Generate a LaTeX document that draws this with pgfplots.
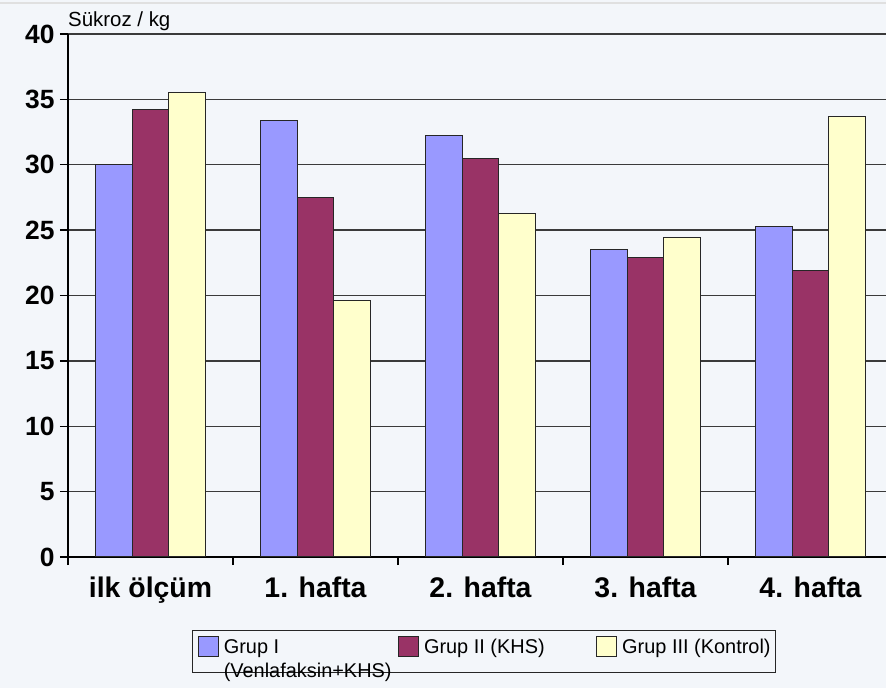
\documentclass[border=0pt]{standalone}
\usepackage{pgfplots}
\pgfplotsset{compat=1.18}
\usepackage{fontspec}
\setmainfont{Liberation Sans}
\definecolor{bg}{HTML}{F3F6FA}
\definecolor{g1}{HTML}{9999FF}
\definecolor{g2}{HTML}{993366}
\definecolor{g3}{HTML}{FFFFCC}
\definecolor{gridc}{HTML}{3A3A3A}
\begin{document}
\begin{tikzpicture}[x=1bp,y=1bp]
\path[use as bounding box] (-68,-131) rectangle (818,557);
\clip (-68,-131) rectangle (818,557);
\fill[bg] (-68,-131) rectangle (818,557);
\draw[color=black!12, line width=2bp] (-68,554) -- (818,554);
\begin{axis}[
  at={(0,0)}, anchor=south west,
  width=818bp, height=523bp, scale only axis, clip=false,
  xmin=-0.5, xmax=4.4576, ymin=0, ymax=40,
  ytick={0,5,...,40},
  xtick={0,1,2,3,4},
  xticklabels={ilk ölçüm, 1. hafta, 2. hafta, 3. hafta, 4. hafta},
  minor xtick={-0.5,0.5,1.5,2.5,3.5},
  major x tick style={draw=none},
  tick align=outside, major tick length=8bp, minor tick length=8bp,
  tick style={black, line width=1.3bp},
  ymajorgrids, grid style={gridc, line width=1.3bp},
  axis x line*=bottom, axis y line*=left,
  axis line style={black, line width=1.3bp},
  ybar=0pt, bar width=36.5bp,
  xticklabel style={font=\bfseries\fontsize{28.5}{30}\selectfont, yshift=-8bp},
  yticklabel style={font=\bfseries\fontsize{26.5}{28}\selectfont, xshift=-2bp},
  /pgf/number format/assume math mode=true,
  legend columns=3,
  legend style={at={(0.1516,-0.1396)}, anchor=north west, draw=black!85, fill=bg,
    line width=1.2bp, font=\fontsize{20}{25}\selectfont,
    inner xsep=5bp, inner ysep=5bp,
    nodes={inner sep=0pt},
    /tikz/every odd column/.append style={column sep=5bp},
    /tikz/every even column/.append style={column sep=0bp}},
  legend cell align=left,
  legend image code/.code={\draw[#1, draw=black!85, line width=1.2bp] (0bp,-5bp) rectangle (20bp,15bp);},
]
\addplot[fill=g1, draw=black!85, line width=1bp] coordinates {(0,30.0) (1,33.4) (2,32.2) (3,23.55) (4,25.3)};
\addplot[fill=g2, draw=black!85, line width=1bp] coordinates {(0,34.2) (1,27.5) (2,30.5) (3,22.9) (4,21.9)};
\addplot[fill=g3, draw=black!85, line width=1bp] coordinates {(0,35.55) (1,19.65) (2,26.3) (3,24.4) (4,33.7)};
\addlegendentry{\begin{tabular}{@{}l@{}}\makebox[174bp][l]{Grup I}\\(Venlafaksin+KHS)\end{tabular}}
\addlegendentry{\begin{tabular}{@{}l@{}}\makebox[172bp][l]{Grup II (KHS)}\\\mbox{}\end{tabular}}
\addlegendentry{\begin{tabular}{@{}l@{}}Grup III (Kontrol)\\\mbox{}\end{tabular}}
\node[anchor=base west, inner sep=0pt, font=\fontsize{20.5}{22}\selectfont] at (rel axis cs:0,1) [yshift=7bp] {Sükroz / kg};
\end{axis}
\end{tikzpicture}
\end{document}
